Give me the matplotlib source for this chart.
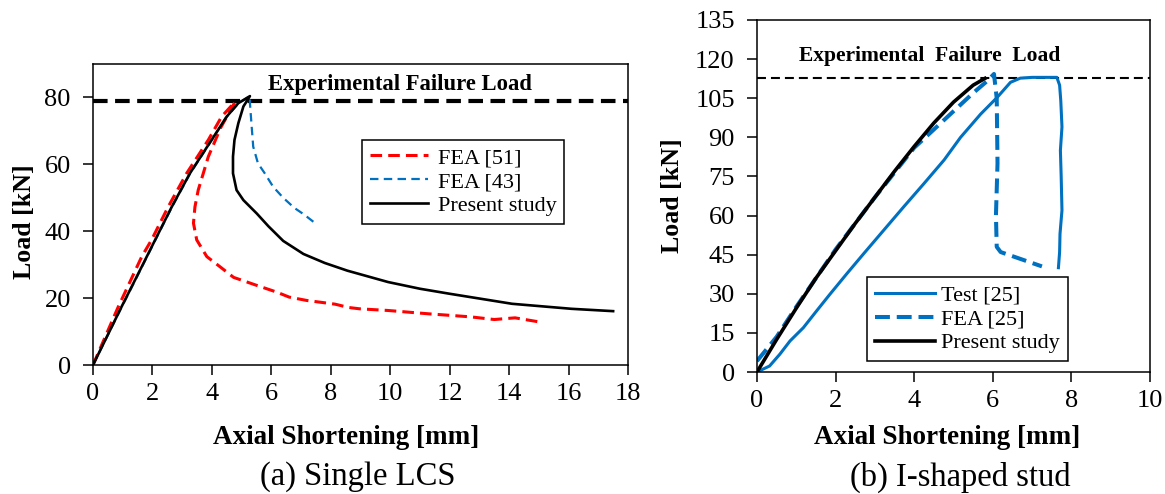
import matplotlib
matplotlib.use("Agg")
import matplotlib.pyplot as plt

# ---- (a) Single LCS ----
lcs_fail_load = 79.0
lcs_fea51_x = [0, 0.85, 1.64, 1.97, 2.53, 3.15, 3.88, 4.33, 4.78, 4.3, 3.88, 3.71, 3.54, 3.43,
               3.38, 3.49, 3.83, 4.27, 4.73, 5.51, 6.18, 6.6, 7.19, 8.14, 8.6, 8.97, 9.93,
               11.3, 12.7, 13.5, 14.2, 15.0]
lcs_fea51_y = [0, 17.4, 32.4, 37.4, 47.3, 57.3, 67.3, 74.3, 78.7, 71, 62.3, 57.3, 52.3, 47.3,
               42.4, 37.4, 32.4, 29.4, 26.2, 23.8, 21.8, 20.3, 19.3, 18.2, 17.2, 16.8, 16.3,
               15.3, 14.4, 13.6, 14.1, 12.9]
lcs_fea43_x = [0, 0.97, 1.65, 2.1, 2.66, 3.27, 4.0, 4.51, 4.9, 5.28, 5.28, 5.33, 5.39,
               5.55, 5.78, 6.06, 6.4, 6.77, 7.1, 7.52]
lcs_fea43_y = [0, 17.4, 29.4, 37.4, 47.3, 57.3, 67.3, 74.3, 78.3, 80.4, 78.3, 72.3, 65.3,
               60.3, 57.3, 53.3, 50, 47, 45, 42.1]
lcs_ps_x = [0, 0.96, 1.64, 2.09, 2.65, 3.26, 3.99, 4.5, 4.89, 5.28, 5.06, 4.89, 4.76, 4.71,
            4.71, 4.83, 5.06, 5.51, 5.9, 6.4, 7.08, 7.8, 8.56, 9.93, 11.0, 12.0, 14.1,
            16.1, 17.5]
lcs_ps_y = [0, 17.4, 29.4, 37.4, 47.3, 57.3, 67.3, 74.3, 78.3, 80.4, 77.3, 72.3, 67.3, 62.3,
            57.3, 52.3, 49.3, 45.3, 41.5, 37.1, 33.2, 30.5, 28.2, 24.8, 22.8, 21.3, 18.3,
            16.8, 16.1]

# ---- (b) I-shaped stud ----
stud_fail_load = 112.6
stud_test_x = [0, 0.32, 0.58, 0.84, 1.18, 1.52, 1.86, 2.28, 2.71, 3.22, 3.73, 4.25, 4.76,
               5.18, 5.69, 6.11, 6.45, 6.7, 7.0, 7.63, 7.7, 7.73, 7.76, 7.72, 7.74, 7.76,
               7.71, 7.70, 7.67]
stud_test_y = [0, 2.3, 6.8, 11.9, 17, 23.5, 29.9, 37.6, 45.3, 54.3, 63.3, 72.3, 81.3,
               90, 98.9, 105.3, 111.1, 112.7, 113, 113, 110, 104, 94, 85, 75, 62,
               53, 46, 40]
stud_fea_x = [0, 0.5, 1.0, 2.0, 3.0, 4.0, 5.0, 5.5, 5.85, 6.03, 6.1, 6.12, 6.08, 6.1, 6.2, 7.25]
stud_fea_y = [4.2, 13.5, 25, 47, 67, 86, 100, 107, 111.5, 114.3, 105, 80, 60, 48, 46, 40.5]
stud_ps_x = [0, 0.5, 1.0, 1.5, 2.0, 2.5, 3.0, 3.5, 4.0, 4.5, 5.0, 5.5, 5.8]
stud_ps_y = [0, 12.5, 24.5, 36, 46.5, 57, 67, 77, 86.5, 95.5, 103.5, 110, 112.6]

BLUE = "#0070C0"
RED = "#FF0000"

plt.rcParams["font.family"] = ["Liberation Serif", "DejaVu Serif"]

fig = plt.figure(figsize=(11.65, 4.94), dpi=100)
W, H = 1165.0, 494.0


def px_axes(x0, y0, x1, y1):
    return fig.add_axes([x0 / W, 1 - y1 / H, (x1 - x0) / W, (y1 - y0) / H])


def style_axes(ax):
    for s in ax.spines.values():
        s.set_linewidth(1.1)
        s.set_color("black")
    ax.tick_params(axis="both", direction="out", length=7, width=1.1, labelsize=19)
    ax.tick_params(axis="y", pad=9)
    ax.tick_params(axis="x", pad=6)


# (a)
ax1 = px_axes(93, 64, 628, 365)
ax1.axhline(lcs_fail_load, color="black", lw=3, dashes=(3.5, 1.8))
ax1.plot(lcs_fea43_x, lcs_fea43_y, color=BLUE, lw=1.6, dashes=(3.8, 2.4), label="FEA [43]")
ax1.plot(lcs_fea51_x, lcs_fea51_y, color=RED, lw=2.2, dashes=(3.8, 2.0), label="FEA [51]")
ax1.plot(lcs_ps_x, lcs_ps_y, color="black", lw=1.9, label="Present study")
ax1.set_xlim(0, 18)
ax1.set_ylim(0, 90)
ax1.set_xticks(range(0, 19, 2))
ax1.set_yticks(range(0, 81, 20))
style_axes(ax1)
ax1.text(10.33, 84, "Experimental Failure Load", ha="center", va="center",
         fontsize=16.3, fontweight="bold")
h, l = ax1.get_legend_handles_labels()
order = [1, 0, 2]
leg1 = ax1.legend([h[i] for i in order], [l[i] for i in order], loc="upper left",
                  bbox_to_anchor=(0.503, 0.748), borderaxespad=0, fontsize=16,
                  handlelength=2.6, handletextpad=0.45, labelspacing=0.15,
                  borderpad=0.35, fancybox=False, framealpha=1, edgecolor="black")
leg1.get_frame().set_linewidth(1.1)

# (b)
ax2 = px_axes(757, 20, 1150, 372)
ax2.axhline(stud_fail_load, color="black", lw=1.5, dashes=(4.3, 2.4))
ax2.plot(stud_test_x, stud_test_y, color=BLUE, lw=2.2, label="Test [25]")
ax2.plot(stud_fea_x, stud_fea_y, color=BLUE, lw=2.9, dashes=(3.7, 1.7), label="FEA [25]")
ax2.plot(stud_ps_x, stud_ps_y, color="black", lw=2.6, label="Present study")
ax2.set_xlim(0, 10)
ax2.set_ylim(0, 135)
ax2.set_xticks(range(0, 11, 2))
ax2.set_yticks(range(0, 136, 15))
style_axes(ax2)
ax2.text(4.4, 121.2, "Experimental  Failure  Load", ha="center", va="center",
         fontsize=15.5, fontweight="bold")
leg2 = ax2.legend(loc="lower left", bbox_to_anchor=(0.28, 0.031), borderaxespad=0,
                  fontsize=16, handlelength=2.7, handletextpad=0.3, labelspacing=0.15,
                  borderpad=0.35, fancybox=False, framealpha=1, edgecolor="black")
leg2.get_frame().set_linewidth(1.1)

# axis titles and captions
fig.text(24 / W, 1 - 222 / H, "Load [kN]", rotation=90, ha="center", va="center",
         fontsize=18.6, fontweight="bold")
fig.text(673 / W, 1 - 196 / H, "Load [kN]", rotation=90, ha="center", va="center",
         fontsize=18.6, fontweight="bold")
fig.text(346 / W, 1 - 437 / H, "Axial Shortening [mm]", ha="center", va="center",
         fontsize=19.5, fontweight="bold")
fig.text(947 / W, 1 - 437 / H, "Axial Shortening [mm]", ha="center", va="center",
         fontsize=19.5, fontweight="bold")
fig.text(358 / W, 1 - 477 / H, "(a) Single LCS", ha="center", va="center", fontsize=23.5)
fig.text(960 / W, 1 - 477 / H, "(b) I-shaped stud", ha="center", va="center", fontsize=23.5)

fig.savefig("out.png", dpi=100)
